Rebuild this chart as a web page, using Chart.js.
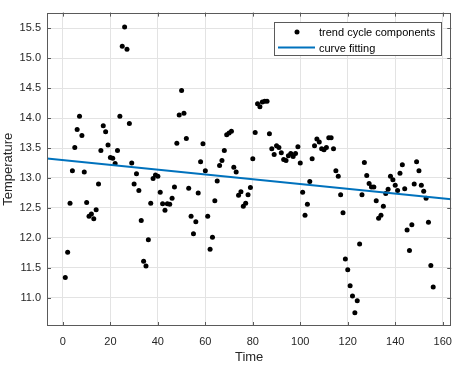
<!DOCTYPE html>
<html><head><meta charset="utf-8">
<script src="https://cdn.jsdelivr.net/npm/chart.js@4/dist/chart.umd.min.js"></script>
<style>html,body{margin:0;padding:0;background:#fff}#wrap{width:461px;height:365px}</style>
</head><body><div id="wrap"><canvas id="c" width="461" height="365"></canvas></div>
<script>
const time = [1,2,3,4,5,6,7,8,9,10,11,12,13,14,15,16,17,18,19,20,21,22,23,24,25,26,27,28,29,30,
31,32,33,34,35,36,37,38,39,40,41,42,43,44,45,46,47,48,49,50,51,52,53,54,55,56,57,58,59,60,
61,62,63,64,65,66,67,68,69,70,71,72,73,74,75,76,77,78,79,80,81,82,83,84,85,86,87,88,89,90,
91,92,93,94,95,96,97,98,99,100,101,102,103,104,105,106,107,108,109,110,111,112,113,114,115,116,117,118,119,120,
121,122,123,124,125,126,127,128,129,130,131,132,133,134,135,136,137,138,139,140,141,142,143,144,145,146,147,148,149,150,
151,152,153,154,155,156];
const temperature = [11.34,11.76,12.58,13.12,13.51,13.81,14.03,13.71,13.10,12.59,
12.36,12.40,12.32,12.47,12.90,13.46,13.87,13.77,13.55,13.34,
13.33,13.24,13.46,14.03,15.20,15.52,15.15,13.91,13.25,12.90,
13.07,12.79,12.29,11.61,11.53,11.97,12.58,12.99,13.05,13.03,
12.76,12.57,12.46,12.57,12.56,12.66,12.85,13.58,14.05,14.46,
14.08,13.66,12.83,12.36,12.07,12.27,12.75,13.27,13.57,13.12,
12.36,11.81,12.01,12.62,12.95,13.21,13.29,13.46,13.72,13.75,
13.78,13.18,13.10,12.71,12.77,12.53,12.58,12.72,12.84,13.32,
13.76,14.24,14.19,14.27,14.28,14.28,13.74,13.49,13.39,13.54,
13.51,13.42,13.31,13.29,13.37,13.41,13.36,13.41,13.52,13.25,
12.76,12.38,12.56,12.94,13.32,13.54,13.65,13.60,13.49,13.47,
13.51,13.67,13.67,13.49,13.12,13.03,12.72,12.42,11.65,11.47,
11.20,11.03,10.75,10.95,11.90,12.72,13.26,13.04,12.91,12.85,
12.85,12.62,12.33,12.38,12.53,12.74,12.81,13.03,12.97,12.88,
12.79,13.08,13.22,12.82,12.13,11.79,12.22,12.90,13.27,13.12,
12.88,12.78,12.66,12.26,11.54,11.18];
const xTicks = [0,20,40,60,80,100,120,140,160];
const yTicks = [11,11.5,12,12.5,13,13.5,14,14.5,15,15.5];
const xLimits = [-6.7, 163.6];
const yLimits = [10.53, 15.76];
const fitIntercept = 13.30;
const fitSlope = -0.0040;
const seriesLabels = ['trend cycle components', 'curve fitting'];

const points = time.map((t, i) => ({x: t, y: temperature[i]}));
const fitLine = xLimits.map(t => ({x: t, y: fitIntercept + fitSlope * t}));

const FONT = 'Liberation Sans, Arial, Helvetica, sans-serif';
const TXT = '#262626';
const AX = '#5a5a5a';

const boxPlugin = {
  id: 'boxTicks',
  afterDatasetsDraw(chart) {
    const {ctx, chartArea: a, scales: {x, y}} = chart;
    ctx.save();
    ctx.strokeStyle = AX; ctx.lineWidth = 1;
    ctx.strokeRect(Math.round(a.left) + 0.5, Math.round(a.top) + 0.5,
      Math.round(a.right - a.left) - 1, Math.round(a.bottom - a.top) - 1);
    const L = 4;
    ctx.beginPath();
    xTicks.forEach(v => {
      const p = Math.round(x.getPixelForValue(v)) + 0.5;
      ctx.moveTo(p, a.bottom); ctx.lineTo(p, a.bottom - L);
      ctx.moveTo(p, a.top); ctx.lineTo(p, a.top + L);
    });
    yTicks.forEach(v => {
      const p = Math.round(y.getPixelForValue(v)) + 0.5;
      ctx.moveTo(a.left, p); ctx.lineTo(a.left + L, p);
      ctx.moveTo(a.right, p); ctx.lineTo(a.right - L, p);
    });
    ctx.stroke();
    ctx.restore();
  },
  afterDraw(chart) {
    const {ctx, chartArea: a} = chart;
    const ds = chart.data.datasets;
    const w = 167, h = 33;
    const bx = Math.round(a.right - 10.5 - w) + 0.5, by = Math.round(a.top + 9) + 0.5;
    ctx.save();
    ctx.fillStyle = '#fff';
    ctx.fillRect(bx, by, w, h);
    ctx.strokeStyle = AX; ctx.lineWidth = 1;
    ctx.strokeRect(bx, by, w, h);
    // entry 1: marker
    ctx.fillStyle = ds[0].backgroundColor;
    ctx.beginPath(); ctx.arc(bx + 22.5, by + 9.5, 2.5, 0, Math.PI * 2); ctx.fill();
    // entry 2: line
    ctx.strokeStyle = ds[1].borderColor; ctx.lineWidth = ds[1].borderWidth;
    ctx.beginPath(); ctx.moveTo(bx + 3.5, by + 25); ctx.lineTo(bx + 40.5, by + 25); ctx.stroke();
    ctx.fillStyle = '#000';
    ctx.font = '11px ' + FONT;
    ctx.textBaseline = 'middle'; ctx.textAlign = 'left';
    ctx.fillText(ds[0].label, bx + 44.5, by + 10.5);
    ctx.fillText(ds[1].label, bx + 44.5, by + 26);
    ctx.restore();
  }
};

new Chart(document.getElementById('c'), {
  type: 'scatter',
  data: {
    datasets: [
      {label: seriesLabels[0], data: points, backgroundColor: '#000', borderColor: '#000',
       pointRadius: 2.5, pointBorderWidth: 0, showLine: false, order: 1},
      {label: seriesLabels[1], data: fitLine, showLine: true, borderColor: '#0072BD',
       backgroundColor: '#0072BD', borderWidth: 2, pointRadius: 0, order: 0}
    ]
  },
  options: {
    responsive: false, animation: false, devicePixelRatio: 1,
    layout: {padding: {left: 0, right: 6, top: 5, bottom: 0}},
    plugins: {legend: {display: false}, tooltip: {enabled: false}},
    scales: {
      x: {
        type: 'linear', min: xLimits[0], max: xLimits[1],
        afterBuildTicks: s => { s.ticks = xTicks.map(v => ({value: v})); },
        afterFit: s => { s.height = 39; },
        grid: {color: '#e3e3e3', drawTicks: false},
        border: {display: false},
        ticks: {padding: 9, color: TXT, font: {family: FONT, size: 11}, maxRotation: 0},
        title: {display: true, text: 'Time', color: TXT, font: {family: FONT, size: 13}, padding: {top: 0, bottom: 0}}
      },
      y: {
        type: 'linear', min: yLimits[0], max: yLimits[1],
        afterBuildTicks: s => { s.ticks = yTicks.map(v => ({value: v})); },
        afterFit: s => { s.width = 47; },
        grid: {color: '#e3e3e3', drawTicks: false},
        border: {display: false},
        ticks: {padding: 6, color: TXT, font: {family: FONT, size: 11}},
        title: {display: true, text: 'Temperature', color: TXT, font: {family: FONT, size: 13}, padding: {top: 1, bottom: 0}}
      }
    }
  },
  plugins: [boxPlugin]
});
</script>
</body></html>
